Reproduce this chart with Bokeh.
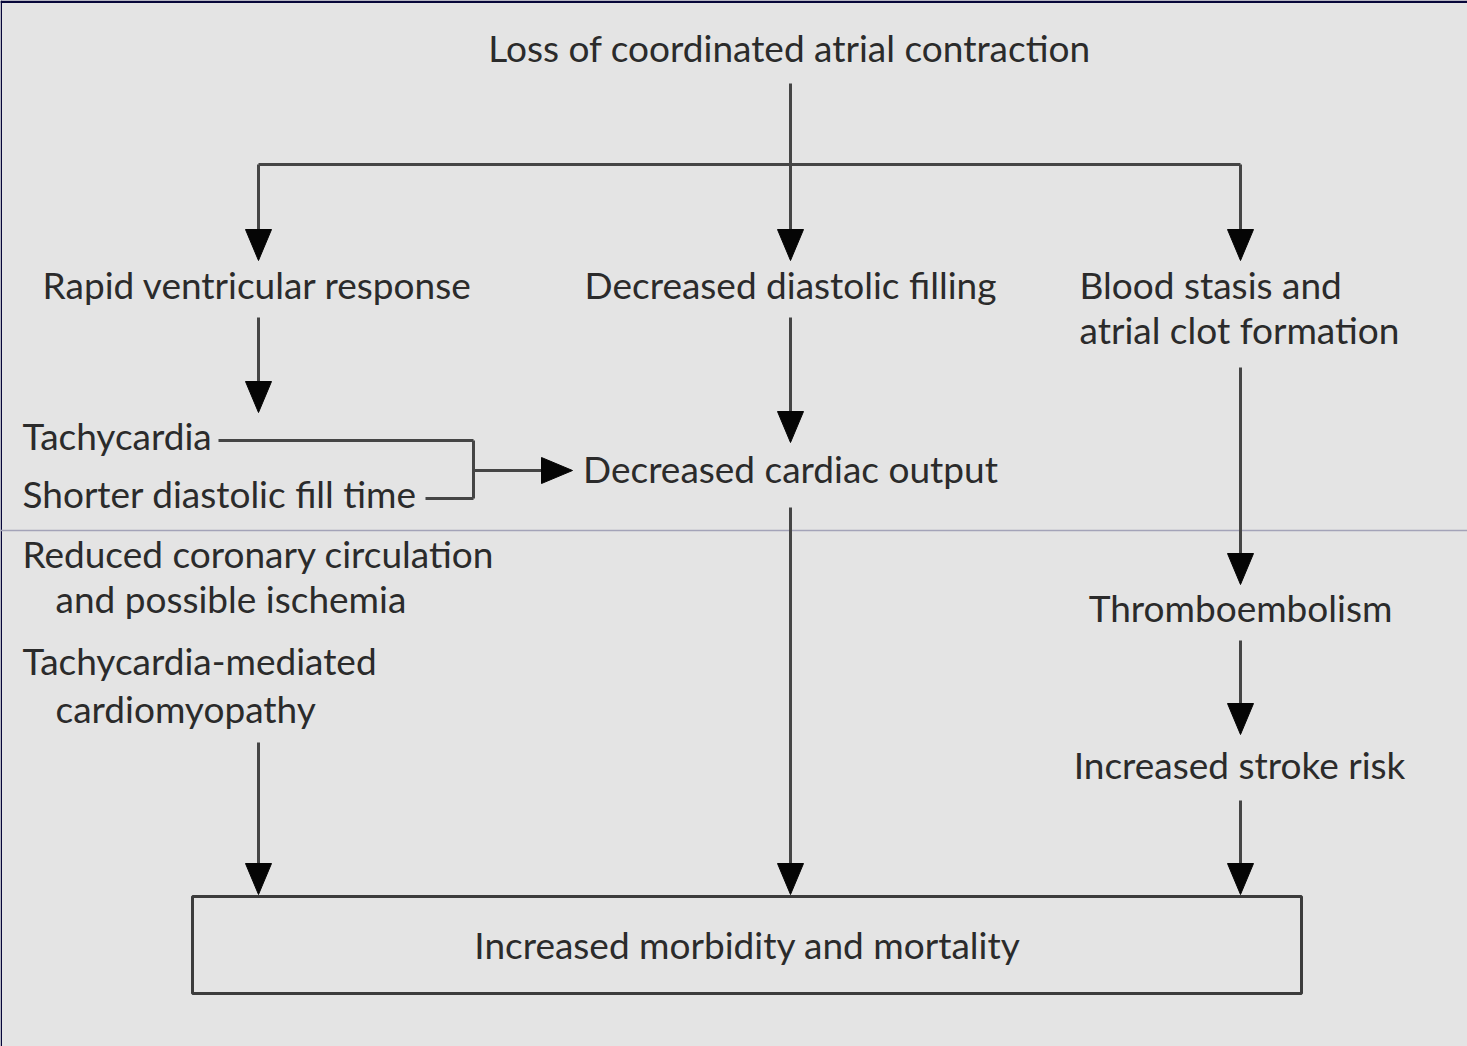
from bokeh.plotting import figure
from bokeh.models import Range1d
from bokeh.core.properties import value
from bokeh.embed import file_html
from bokeh.resources import INLINE
import math

# ---- diagram content ----
center_labels = ["Loss of coordinated atrial contraction", "Rapid ventricular response",
                 "Decreased diastolic filling", "Decreased cardiac output",
                 "Thromboembolism", "Increased stroke risk",
                 "Increased morbidity and mortality"]
center_x = [789, 257, 790, 790, 1240, 1239, 747]
center_y = [49, 286, 286, 470, 609, 766, 946]

left_labels = ["Blood stasis and", "atrial clot formation", "Tachycardia",
               "Shorter diastolic fill time", "Reduced coronary circulation",
               "and possible ischemia", "Tachycardia-mediated", "cardiomyopathy"]
left_x = [1079, 1079, 22, 22, 22, 55, 22, 55]
left_y = [286, 331, 437, 495, 555, 600, 662, 710]

# arrows (tail -> tip)
arrow_x0 = [790, 258, 1240, 258, 790, 1240, 473, 258, 790, 1240, 1240]
arrow_y0 = [83, 164, 164, 317, 317, 367, 470, 742, 507, 640, 800]
arrow_x1 = [790, 258, 1240, 258, 790, 1240, 572, 258, 790, 1240, 1240]
arrow_y1 = [260, 260, 260, 412, 442, 584, 470, 894, 894, 734, 894]

# plain connectors
conn_x0 = [258, 218, 425, 473]
conn_y0 = [164, 440, 498, 440]
conn_x1 = [1240, 473, 473, 473]
conn_y1 = [164, 440, 498, 498]

box_left, box_right, box_top, box_bottom = 192, 1301, 896, 993
sep_y = 530

W, H = 1467, 1046
TEXT_SHIFT = -2  # calibration: text visual centre vs data y

p = figure(width=W, height=H, output_backend="svg", toolbar_location=None,
           x_range=Range1d(0, W), y_range=Range1d(H, 0),
           x_axis_location=None, y_axis_location=None, min_border=0,
           background_fill_color="#e4e4e4", border_fill_color="#e4e4e4",
           outline_line_color=None)
p.grid.visible = False

LINE = "#454545"
TEXT = "#2b2b2b"
FONT = "Lato"
FS = "37px"

# navy frame edges (top and left)
p.quad(left=[0, 0], right=[W, 1.5], top=[0, 0], bottom=[2.5, H],
       fill_color="#07073a", line_color=None)

# separator line
p.segment(x0=[0], y0=[sep_y], x1=[W], y1=[sep_y], line_color="#a3a3b8", line_width=1.5)

# connectors
p.segment(x0=conn_x0, y0=conn_y0, x1=conn_x1, y1=conn_y1, line_color=LINE, line_width=3)

# arrows: shaft + head
head_len, head_half = 31, 13
sx1, sy1, hx, hy = [], [], [], []
for x0, y0, x1, y1 in zip(arrow_x0, arrow_y0, arrow_x1, arrow_y1):
    dx, dy = x1 - x0, y1 - y0
    L = math.hypot(dx, dy)
    ux, uy = dx / L, dy / L
    bx, by = x1 - ux * head_len, y1 - uy * head_len
    sx1.append(bx + ux * 2)
    sy1.append(by + uy * 2)
    px, py = -uy, ux
    hx.append([x1, bx + px * head_half, bx - px * head_half])
    hy.append([y1, by + py * head_half, by - py * head_half])
p.segment(x0=arrow_x0, y0=arrow_y0, x1=sx1, y1=sy1, line_color=LINE, line_width=3)
p.patches(xs=hx, ys=hy, fill_color="#050505", line_color="#050505", line_width=1)

# bottom box
p.quad(left=[box_left], right=[box_right], top=[box_top], bottom=[box_bottom],
       fill_color=None, line_color="#3c3c3c", line_width=3)

# texts
p.text(x=center_x, y=[v + TEXT_SHIFT for v in center_y], text=center_labels,
       text_align="center", text_baseline="alphabetic", text_font=value(FONT),
       text_font_size=FS, text_color=TEXT)
p.text(x=left_x, y=[v + TEXT_SHIFT for v in left_y], text=left_labels,
       text_align="left", text_baseline="alphabetic", text_font=value(FONT),
       text_font_size=FS, text_color=TEXT)

open("out.html", "w").write(file_html(p, INLINE))
